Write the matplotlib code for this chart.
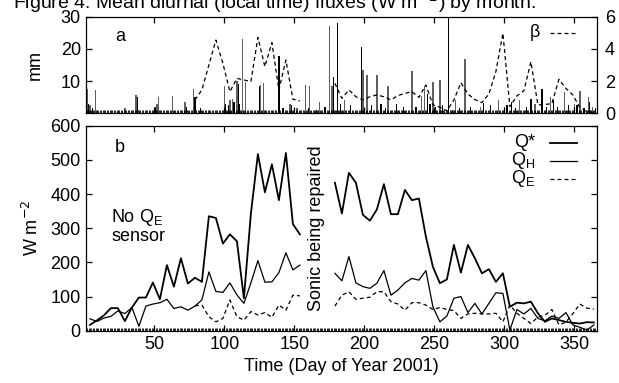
import matplotlib
matplotlib.use("Agg")
import matplotlib.pyplot as plt
import numpy as np

plt.rcParams['font.family'] = ['Liberation Sans', 'DejaVu Sans']

# ---- data ----
days1 = list(range(4, 155, 5))          # first segment (31 points)
qstar1 = [17, 30, 45, 66, 66, 28, 68, 97, 97, 141, 92, 192, 129, 212, 138, 155,
          143, 335, 330, 255, 282, 262, 95, 343, 517, 405, 487, 382, 520, 312, 282]
qh1 = [35, 27, 37, 42, 58, 50, 68, 13, 72, 78, 82, 92, 65, 70, 60, 72,
       90, 172, 115, 112, 140, 105, 80, 140, 205, 142, 143, 170, 228, 178, 192]
days_qe1 = list(range(79, 155, 5))      # QE sensor available
qe1 = [73, 75, 41, 26, 36, 90, 41, 31, 56, 46, 53, 39, 75, 60, 104, 102]
beta1 = [0.83, 1.45, 3.0, 4.55, 3.1, 1.34, 2.17, 2.07, 1.97, 4.71, 2.9, 4.39,
         1.45, 3.31, 0.87, 0.77]

days2 = list(range(179, 365, 5))        # second segment (38 points)
qstar2 = [433, 343, 462, 433, 339, 322, 355, 429, 341, 341,
          412, 382, 387, 275, 187, 139, 150, 251, 170, 251,
          212, 168, 180, 143, 168, 70, 82, 80, 85, 51,
          26, 36, 31, 26, 23, 21, 25, 24]
qh2 = [168, 146, 217, 140, 129, 124, 139, 176, 104, 119,
       140, 153, 148, 176, 70, 26, 43, 95, 100, 53,
       80, 49, 80, 111, 109, 2, 62, 49, 65, 36,
       29, 43, 36, 53, 17, 10, 2, 17]
qe2 = [72, 104, 114, 92, 95, 98, 114, 114, 85, 78,
       60, 82, 82, 75, 62, 68, 62, 59, 36, 49,
       51, 49, 49, 51, 26, 75, 51, 36, 21, 40,
       45, 62, 17, 25, 50, 78, 66, 63]
beta2 = [1.86, 0.93, 1.45, 1.03, 0.83, 1.03, 1.14, 1.03, 0.83, 1.1,
         1.24, 1.34, 0.99, 1.76, 0.52, 0.38, 0.15, 0.83, 1.9, 1.2,
         0.85, 0.66, 1.2, 2.6, 4.97, 0.41, 1.08, 1.4, 3.2, 0.52,
         0.55, 0.6, 2.11, 1.55, 1.14, 0.35, 0.1, 0.05]

rain_gray_days = [2, 4, 8, 29, 37, 52, 53, 63, 72, 78, 100, 104, 106, 109, 113, 115,
                  126, 128, 147, 152, 158, 161, 168, 175, 177, 186, 199, 202, 209,
                  217, 234, 241, 243, 249, 254, 265, 272, 283, 296, 300, 311, 322,
                  333, 343, 350, 354, 360, 363]
rain_gray_mm = [7.5, 2.5, 7.3, 1.5, 5.7, 3, 5, 5.5, 3.5, 7.5, 8.5, 4, 4.5, 10, 23, 9.7,
                8.7, 9.5, 3, 1.5, 8.7, 8.5, 3.5, 27, 8.5, 4, 13.5, 12, 12,
                8.5, 13, 5.4, 8.5, 9.7, 10.3, 4, 16.8, 2, 4, 2, 4, 3,
                5, 6.7, 3, 7, 5, 2]
rain_black_days = [3, 6, 38, 51, 73, 79, 83, 101, 103, 107, 110, 111, 125, 139, 142,
                   148, 150, 160, 166, 172, 178, 181, 183, 190, 198, 205, 212, 215,
                   223, 228, 237, 245, 247, 251, 256, 260, 263, 268, 276, 285, 290,
                   302, 305, 308, 316, 319, 327, 330, 335, 338, 346, 352, 357, 361, 365]
rain_black_mm = [3, 1.5, 5, 2, 2, 5, 1.5, 3, 2.5, 3.5, 9, 3, 8.5, 17.8, 1.5,
                 2.5, 1.8, 1.5, 1, 2, 11.4, 28, 3, 2.5, 20.7, 2.5, 3, 1.5,
                 3, 2, 2, 6, 3, 2, 2.5, 40, 1, 1.5, 2, 3.2, 2.5,
                 2.5, 3.5, 1.5, 2, 4.5, 7.5, 2, 4, 2, 2.5, 2.5, 1.5, 3.5, 1.5]

xticks = [50, 100, 150, 200, 250, 300, 350]
# ---- figure ----
W, H = 619, 383
fig = plt.figure(figsize=(W / 100, H / 100), dpi=100)

def fx(px):
    return px / W

def fy(py):
    return 1 - py / H

axa = fig.add_axes([fx(85.7), fy(113.3), fx(596.7) - fx(85.7), fy(16.7) - fy(113.3)])
axb = fig.add_axes([fx(85.7), fy(330.7), fx(596.7) - fx(85.7), fy(125.7) - fy(330.7)])

fs = 13
for ax in (axa, axb):
    for s in ax.spines.values():
        s.set_linewidth(0.9)
    ax.set_xlim(1, 366)
    ax.set_xticks(xticks)
    ax.set_xticks(np.arange(1, 367, 1), minor=True)
    ax.tick_params(axis='x', which='major', direction='in', top=True, bottom=True,
                   length=4.5, width=0.9, labelsize=fs)
    ax.tick_params(axis='x', which='minor', direction='in', top=False, bottom=True,
                   length=2.0, width=0.6)

# top panel
axa.bar(rain_gray_days, rain_gray_mm, width=0.9, color='#5f5f5f', linewidth=0)
axa.bar(rain_black_days, rain_black_mm, width=0.9, color='black', linewidth=0)
axa.set_ylim(0, 30)
axa.set_yticks([10, 20, 30])
axa.tick_params(axis='y', direction='in', left=True, right=False, length=4.5,
                width=0.9, labelsize=fs)
axa.tick_params(axis='x', labelbottom=False)
axa.set_ylabel('mm', fontsize=fs, labelpad=12)
axr = axa.twinx()
axr.set_ylim(0, 6)
axr.set_yticks([0, 2, 4, 6])
axr.tick_params(axis='y', direction='in', length=4.5, width=0.9, labelsize=fs, pad=6)
for s in axr.spines.values():
    s.set_visible(False)
dash = (0, (3.2, 2.4))
axr.plot(days_qe1, beta1, color='black', lw=0.9, linestyle=dash)
axr.plot(days2, beta2, color='black', lw=0.9, linestyle=dash)
axa.text(0.057, 0.79, 'a', transform=axa.transAxes, fontsize=fs, va='center')
axa.text(0.879, 0.835, 'β', transform=axa.transAxes, fontsize=fs, ha='center',
         va='center')
axa.plot([0.909, 0.962], [0.83, 0.83], transform=axa.transAxes, color='black',
         lw=0.9, linestyle=dash)

# bottom panel
axb.plot(days1, qstar1, color='black', lw=1.3)
axb.plot(days2, qstar2, color='black', lw=1.3)
axb.plot(days1, qh1, color='black', lw=0.9)
axb.plot(days2, qh2, color='black', lw=0.9)
axb.plot(days_qe1, qe1, color='black', lw=0.9, linestyle=dash)
axb.plot(days2, qe2, color='black', lw=0.9, linestyle=dash)
axb.set_ylim(0, 600)
axb.set_yticks(np.arange(0, 601, 100))
axb.tick_params(axis='y', direction='in', left=True, right=True, length=4.5,
                width=0.9, labelsize=fs)
axb.set_ylabel('W m$^{-2}$', fontsize=fs, labelpad=6)
axb.set_xlabel('Time (Day of Year 2001)', fontsize=fs, labelpad=4)
axb.text(0.057, 0.895, 'b', transform=axb.transAxes, fontsize=fs, va='center')
axb.text(0.05, 0.51, 'No Q$_\\mathregular{E}$\nsensor', transform=axb.transAxes,
         fontsize=fs, va='center', linespacing=1.0)
axb.text(0.451, 0.5, 'Sonic being repaired', transform=axb.transAxes, fontsize=fs,
         rotation=90, ha='center', va='center')
leg_labels = ['Q*', 'Q$_\\mathregular{H}$', 'Q$_\\mathregular{E}$']
leg_y = [0.918, 0.83, 0.742]
leg_ls = ['-', '-', dash]
leg_lw = [1.3, 0.9, 0.9]
for lab, yy, ls, lw in zip(leg_labels, leg_y, leg_ls, leg_lw):
    axb.text(0.88, yy, lab, transform=axb.transAxes, fontsize=fs, ha='right',
             va='center')
    axb.plot([0.909, 0.962], [yy, yy], transform=axb.transAxes, color='black',
             lw=lw, linestyle=ls)

fig.text(fx(13), fy(9), 'Figure 4: Mean diurnal (local time) fluxes (W m$^{-2}$) by month.',
         fontsize=14, va='baseline', ha='left')

fig.savefig('out.png', dpi=100)
